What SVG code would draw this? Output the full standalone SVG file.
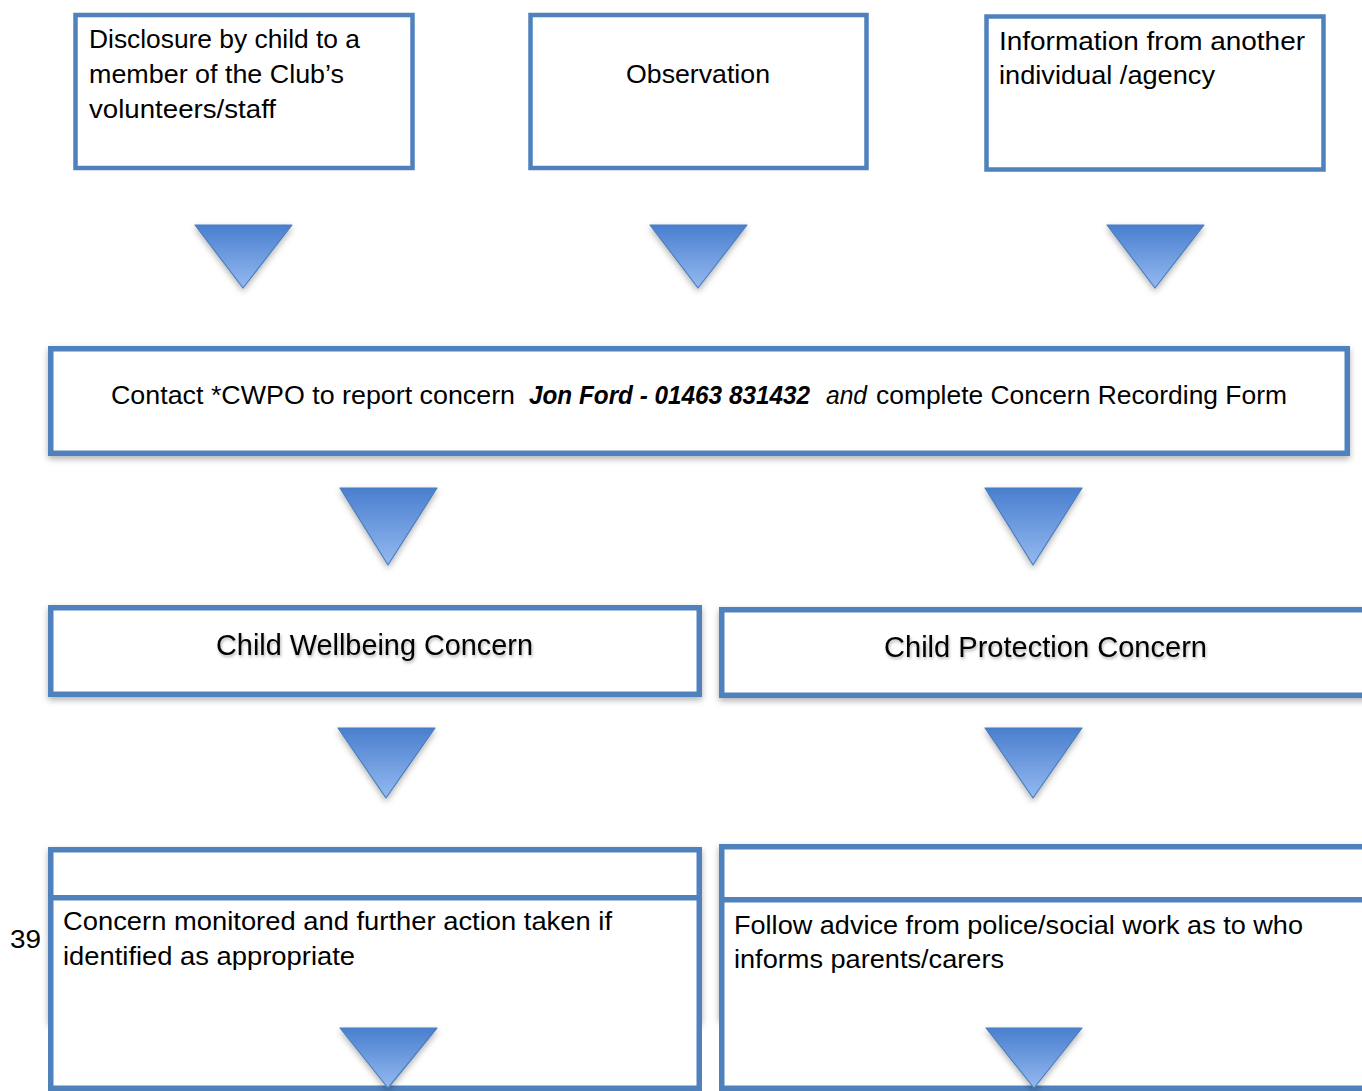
<svg xmlns="http://www.w3.org/2000/svg" width="1362" height="1091" viewBox="0 0 1362 1091">
<style>
.box{fill:#fff;stroke:#4f81bd;stroke-width:5.5}
.tbox{fill:#fff;stroke:#4f81bd;stroke-width:4.5}
.t{font-family:"Liberation Sans",Arial,sans-serif;font-size:26px;fill:#000}
.h{font-family:"Liberation Sans",Arial,sans-serif;font-size:28.8px;fill:#000}
.tri{fill:url(#g);stroke:#4a7ebb;stroke-width:1.2;stroke-linejoin:round}
</style>
<defs>
<linearGradient id="g" x1="0" y1="0" x2="0" y2="1">
<stop offset="0" stop-color="#4a7fcf"/>
<stop offset="1" stop-color="#94b9f0"/>
</linearGradient>
<filter id="sh" x="-10%" y="-20%" width="120%" height="150%">
<feDropShadow dx="0" dy="3" stdDeviation="3" flood-color="#000" flood-opacity="0.3"/>
</filter>
<filter id="ts" x="-5%" y="-30%" width="110%" height="160%">
<feDropShadow dx="1" dy="2" stdDeviation="1.5" flood-color="#000" flood-opacity="0.3"/>
</filter>
</defs>

<g id="n-disclosure">
<rect class="tbox" x="75.5" y="15" width="337" height="153"/>
<text class="t" x="89" y="48" textLength="271" lengthAdjust="spacingAndGlyphs">Disclosure by child to a</text>
<text class="t" x="89" y="83" textLength="255" lengthAdjust="spacingAndGlyphs">member of the Club’s</text>
<text class="t" x="89" y="118" textLength="187" lengthAdjust="spacingAndGlyphs">volunteers/staff</text>
</g>

<g id="n-observation">
<rect class="tbox" x="530.5" y="15" width="336" height="153"/>
<text class="t" x="626" y="83" textLength="144" lengthAdjust="spacingAndGlyphs">Observation</text>
</g>

<g id="n-information">
<rect class="tbox" x="986.5" y="16.5" width="337" height="153"/>
<text class="t" x="999" y="50" textLength="306" lengthAdjust="spacingAndGlyphs">Information from another</text>
<text class="t" x="999" y="84" textLength="216" lengthAdjust="spacingAndGlyphs">individual /agency</text>
</g>

<g id="n-contact">
<rect class="box" x="50.75" y="348.75" width="1296.5" height="104.5" filter="url(#sh)"/>
<text class="t" x="111" y="404" textLength="404" lengthAdjust="spacingAndGlyphs">Contact *CWPO to report concern</text>
<text class="t" x="529" y="404" font-weight="bold" font-style="italic" textLength="281" lengthAdjust="spacingAndGlyphs">Jon Ford - 01463 831432</text>
<text class="t" x="826" y="404" font-style="italic" textLength="41" lengthAdjust="spacingAndGlyphs">and</text>
<text class="t" x="876" y="404" textLength="411" lengthAdjust="spacingAndGlyphs">complete Concern Recording Form</text>
</g>

<g id="n-wellbeing">
<rect class="box" x="50.75" y="607.75" width="648.5" height="86.5" filter="url(#sh)"/>
<text class="h" x="216" y="655" textLength="317" lengthAdjust="spacingAndGlyphs" filter="url(#ts)">Child Wellbeing Concern</text>
</g>

<g id="n-protection">
<rect class="box" x="721.75" y="609.75" width="700" height="85.5" filter="url(#sh)"/>
<text class="h" x="884" y="657" textLength="323" lengthAdjust="spacingAndGlyphs" filter="url(#ts)">Child Protection Concern</text>
</g>

<g id="n-monitored">
<rect class="box" x="50.75" y="849.75" width="648.5" height="170" filter="url(#sh)"/>
<rect class="box" x="50.75" y="897.75" width="648.5" height="190.5"/>
<text class="t" x="63" y="930" textLength="549" lengthAdjust="spacingAndGlyphs">Concern monitored and further action taken if</text>
<text class="t" x="63" y="965" textLength="292" lengthAdjust="spacingAndGlyphs">identified as appropriate</text>
</g>

<g id="n-follow">
<rect class="box" x="721.75" y="846.75" width="700" height="170" filter="url(#sh)"/>
<rect class="box" x="721.75" y="899.75" width="700" height="188.5"/>
<text class="t" x="734" y="934" textLength="569" lengthAdjust="spacingAndGlyphs">Follow advice from police/social work as to who</text>
<text class="t" x="734" y="968" textLength="270" lengthAdjust="spacingAndGlyphs">informs parents/carers</text>
</g>

<g id="page-number">
<text class="t" x="10" y="948" font-size="27" textLength="31" lengthAdjust="spacingAndGlyphs">39</text>
</g>

<g id="connectors" filter="url(#sh)">
<polygon class="tri" points="195,225 292,225 243,288"/>
<polygon class="tri" points="650,225 747,225 698,288"/>
<polygon class="tri" points="1107,225 1204,225 1155,288"/>
<polygon class="tri" points="340,488 437,488 388,565"/>
<polygon class="tri" points="985,488 1082,488 1033,565"/>
<polygon class="tri" points="338,728 435,728 386,798"/>
<polygon class="tri" points="985,728 1082,728 1033,798"/>
<polygon class="tri" points="340,1028 437,1028 388,1088"/>
<polygon class="tri" points="986,1028 1082,1028 1034,1088"/>
</g>
</svg>
